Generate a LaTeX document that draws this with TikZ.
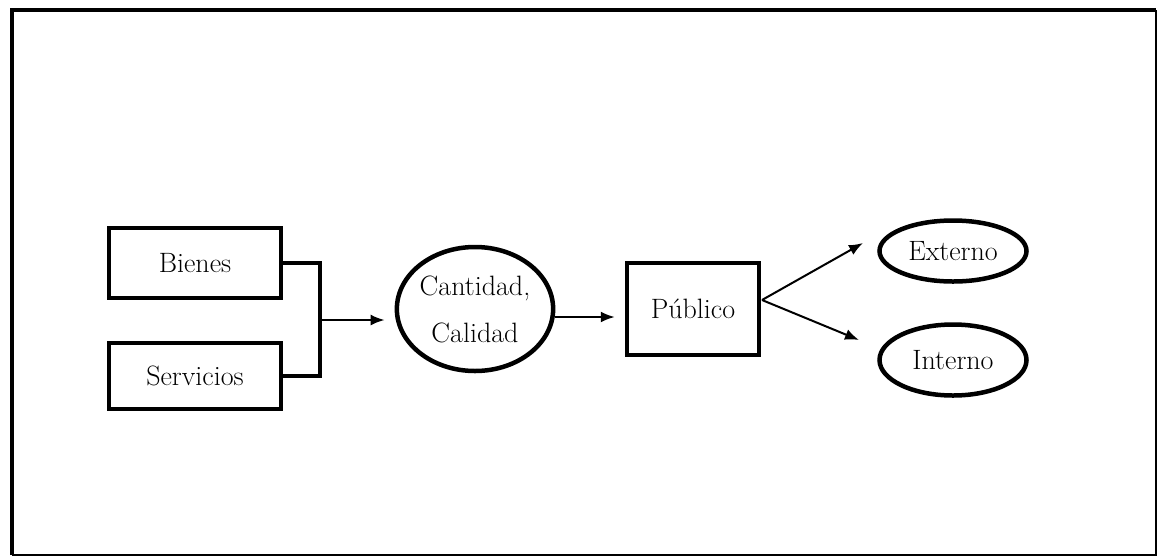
\documentclass[tikz,border=0pt]{standalone}
\usetikzlibrary{arrows.meta,shapes.geometric}
\begin{document}
\begin{tikzpicture}[x=1pt,y=-1pt,
  lbl/.style={font=\fontsize{28}{47}\selectfont},
  box/.style={draw,line width=4.5pt,rectangle,inner sep=0pt,lbl},
  oval/.style={draw,line width=4.5pt,ellipse,inner sep=0pt,lbl},
  link/.style={line width=4.5pt},
  arr/.style={line width=2pt,-{Latex[length=14pt,width=11pt]}}]
  \useasboundingbox (0,0) rectangle (1159,558);
  % frame
  \draw[line width=4pt] (12,555) -- (12,10) -- (1156,10);
  \draw[line width=2.5pt] (1156,10) -- (1156,555) -- (12,555);
  % inputs
  \node[box,minimum width=172pt,minimum height=70pt] (bienes) at (195,263) {Bienes};
  \node[box,minimum width=172pt,minimum height=66pt] (servicios) at (195,376) {Servicios};
  \coordinate (j) at (320,320);
  \draw[link] (bienes.east) -| (j) |- (servicios.east);
  % quantity / quality
  \node[oval,minimum width=151pt,minimum height=124pt,align=center] (cc) at (475,309) {Cantidad,\\Calidad};
  \draw[arr,shorten >=10pt] (j) -- (j -| cc.west);
  % public
  \node[box,minimum width=132pt,minimum height=92pt] (pub) at (693,309) {Público};
  \draw[arr,shorten >=10pt] ([yshift=-8pt]cc.east) -- ([yshift=-8pt]pub.west);
  % external / internal
  \node[oval,minimum width=147pt,minimum height=61pt] (ext) at (953,251) {Externo};
  \node[oval,minimum width=147pt,minimum height=71pt] (int) at (953,360) {Interno};
  \coordinate (s) at (762,300);
  \coordinate (te) at (863,243);
  \coordinate (ti) at (859,340);
  \draw[arr] (s) -- (te);
  \draw[arr] (s) -- (ti);
\end{tikzpicture}
\end{document}
